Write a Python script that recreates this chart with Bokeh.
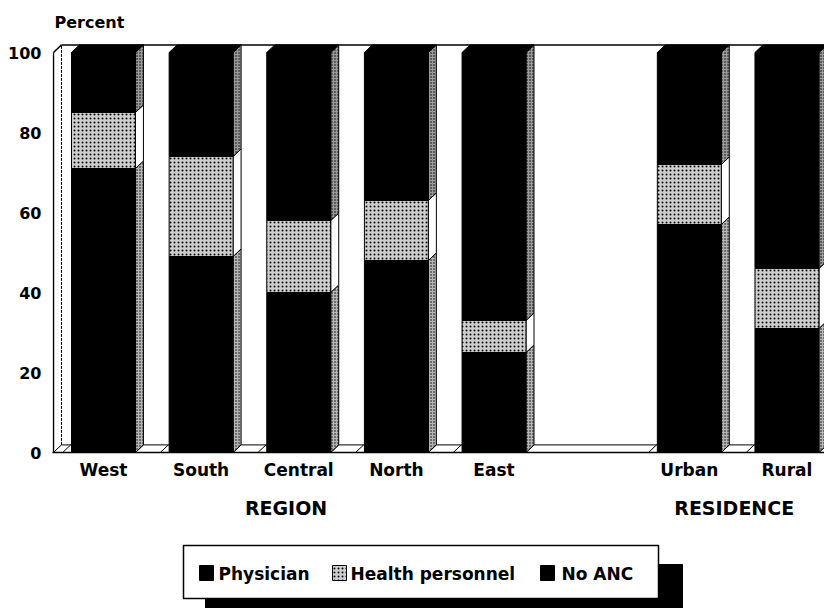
from bokeh.plotting import figure
from bokeh.models import FixedTicker, Range1d
from bokeh.layouts import column
from bokeh.embed import file_html
from bokeh.resources import INLINE
from bokeh.core.properties import value

# ---------------- data ----------------
categories = ["West", "South", "Central", "North", "East", "Urban", "Rural"]
positions = [0, 1, 2, 3, 4, 6, 7]
physician = [71, 49, 40, 48, 25, 57, 31]
health = [14, 25, 18, 15, 8, 15, 15]
no_anc = [15, 26, 42, 37, 67, 28, 54]
series = ["Physician", "Health personnel", "No ANC"]
groups = ["REGION", "RESIDENCE"]
group_x = [1.87, 6.46]
y_ticks = [0, 20, 40, 60, 80, 100]

# ---------------- style ----------------
FONT = "DejaVu Sans"
front_colors = ["#000000", "#cfcfcf", "#000000"]
side_colors = ["#b5b5b5", "#ffffff", "#9a9a9a"]
hatches = [None, "dot", None]
W = 0.655      # bar width (slot units)
DX = 0.082     # depth offset x (slot units)
DY = 1.9       # depth offset y (percent units)
FW = 772
X0 = -0.522
X1 = X0 + FW / 97.64
XW = -0.512    # left wall front edge

p = figure(frame_width=FW, frame_height=410,
           x_range=Range1d(X0, X1), y_range=Range1d(0, 102.5),
           min_border_left=52, min_border_right=0, min_border_top=42,
           min_border_bottom=38, toolbar_location=None, output_backend="svg")
p.outline_line_color = None
p.xgrid.grid_line_color = None
p.ygrid.grid_line_color = None
p.background_fill_color = "white"

p.title.text = "Percent"
p.title.align = "left"
p.title.offset = 2
p.title.standoff = 21
p.title.text_font = FONT
p.title.text_font_style = "bold"
p.title.text_font_size = "16px"
p.title.text_color = "black"

# floor / walls
p.line([XW + DX, X1], [DY, DY], line_color="black", line_width=1)
p.line([XW + DX, X1], [100 + DY, 100 + DY], line_color="black", line_width=1.5)
p.line([XW, XW], [0, 100], line_color="black", line_width=1.5)
p.line([XW, XW + DX], [100, 100 + DY], line_color="black", line_width=1.5)
p.line([XW + DX, XW + DX], [DY, 100 + DY], line_color="black", line_width=1, line_dash="3 1")
p.line([XW, XW + DX], [0, DY], line_color="black", line_width=1)

sl_xs, sl_ys = [], []
for x in positions:
    l, r = x - W / 2, x + W / 2
    sl_xs += [[r, r + DX], [l - DX * 1.1, l - DX * 0.1]]
    sl_ys += [[0, DY], [0, DY]]
p.multi_line(sl_xs, sl_ys, line_color="black", line_width=1)

bottoms = [[0] * len(positions), physician, [a + b for a, b in zip(physician, health)]]
tops = [physician, [a + b for a, b in zip(physician, health)],
        [a + b + c for a, b, c in zip(physician, health, no_anc)]]

# side faces
for k in range(3):
    xs, ys = [], []
    for i, x in enumerate(positions):
        r = x + W / 2
        b, t = bottoms[k][i], tops[k][i]
        xs.append([r, r + DX, r + DX, r])
        ys.append([b, b + DY, t + DY, t])
    kw = dict(fill_color=side_colors[k], line_color="black", line_width=1)
    if k != 1:
        kw.update(hatch_pattern="dot", hatch_color="black", hatch_scale=3, hatch_weight=1)
    p.patches(xs, ys, **kw)

# front faces
for k in range(3):
    kw = dict(fill_color=front_colors[k], line_color="black", line_width=1)
    if hatches[k]:
        kw.update(hatch_pattern=hatches[k], hatch_color="black", hatch_scale=4, hatch_weight=1)
    p.quad(left=[x - W / 2 for x in positions], right=[x + W / 2 for x in positions],
           bottom=bottoms[k], top=tops[k], **kw)

# top faces
txs, tys = [], []
for i, x in enumerate(positions):
    l, r = x - W / 2, x + W / 2
    t = tops[2][i]
    txs.append([l, r, r + DX, l + DX])
    tys.append([t, t, t + DY, t + DY])
p.patches(txs, tys, fill_color="black", line_color="black", line_width=1)

# axes
p.yaxis.ticker = FixedTicker(ticks=y_ticks)
p.yaxis.axis_line_color = None
p.yaxis.major_tick_line_color = None
p.yaxis.minor_tick_line_color = None
p.yaxis.major_label_standoff = 5
p.yaxis.major_label_text_font = FONT
p.yaxis.major_label_text_font_style = "bold"
p.yaxis.major_label_text_font_size = "16px"
p.yaxis.major_label_text_color = "black"

p.xaxis.ticker = FixedTicker(ticks=positions)
p.xaxis.major_label_overrides = {pos: c for pos, c in zip(positions, categories)}
p.xaxis.axis_line_color = "black"
p.xaxis.axis_line_width = 1.5
p.xaxis.major_tick_line_color = None
p.xaxis.minor_tick_line_color = None
p.xaxis.major_label_standoff = 1
p.xaxis.major_label_text_font = FONT
p.xaxis.major_label_text_font_style = "bold"
p.xaxis.major_label_text_font_size = "17px"
p.xaxis.major_label_text_color = "black"

# ---------------- bottom panel: group labels + legend ----------------
p2 = figure(frame_width=FW, frame_height=118, x_range=p.x_range, y_range=Range1d(0, 118),
            min_border_left=52, min_border_right=0, min_border_top=0, min_border_bottom=0,
            x_axis_location=None, y_axis_location=None, toolbar_location=None,
            output_backend="svg")
p2.outline_line_color = None
p2.xgrid.grid_line_color = None
p2.ygrid.grid_line_color = None
p2.extra_x_ranges = {"px": Range1d(52, 52 + FW)}

p2.text(x=group_x, y=[101, 101], text=groups, text_font=value(FONT), text_font_style="bold",
        text_font_size="19px", text_align="center", text_baseline="middle", text_color="black")

# legend shadow and box
p2.quad(left=[205], right=[682], bottom=[-10], top=[44], fill_color="black",
        line_color="black", x_range_name="px")
p2.quad(left=[183], right=[658], bottom=[10], top=[63], fill_color="white",
        line_color="black", line_width=1.5, x_range_name="px")
sw_x = [199, 332, 540]
tx_x = [218, 350, 561]
for k in range(3):
    kw = dict(fill_color=front_colors[k], line_color="black", line_width=1)
    if hatches[k]:
        kw.update(hatch_pattern=hatches[k], hatch_color="black", hatch_scale=4, hatch_weight=1)
    p2.quad(left=[sw_x[k]], right=[sw_x[k] + 14], bottom=[28], top=[43], x_range_name="px", **kw)
p2.text(x=tx_x, y=[35] * 3, text=series, text_font=value(FONT), text_font_style="bold",
        text_font_size="17px", text_align="left", text_baseline="middle", text_color="black",
        x_range_name="px")

layout = column(p, p2, spacing=0)
open("out.html", "w").write(file_html(layout, INLINE))
